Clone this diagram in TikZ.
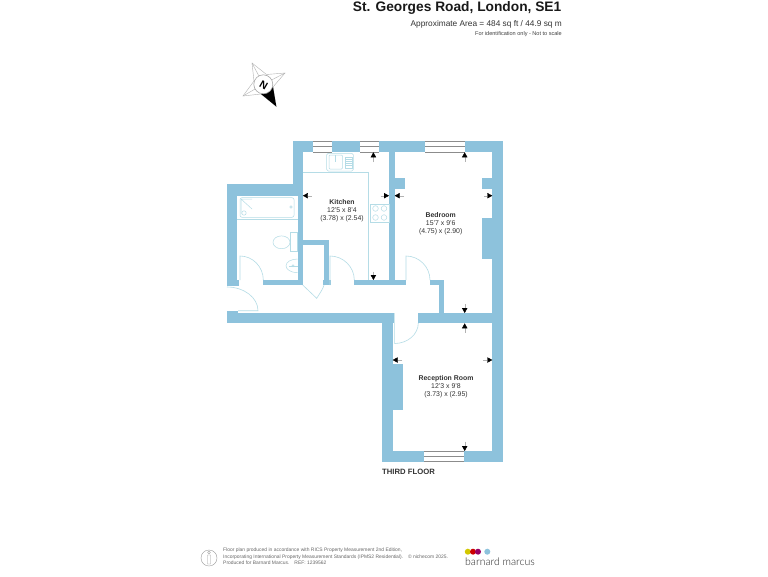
\documentclass[tikz,border=0pt]{standalone}
\usepackage{fontspec}
\setmainfont{Liberation Sans}
\newfontfamily\logofont{Lato Light}
\usetikzlibrary{arrows.meta}
\definecolor{wallblue}{HTML}{8DC2DC}
\definecolor{fitline}{HTML}{B5DCE6}
\tikzset{
  x=1pt,y=-1pt,
  wall/.style={fill=wallblue,draw=none},
  fitting/.style={draw=fitline,line width=0.5pt,fill=none},
  doorleaf/.style={draw=fitline,line width=0.6pt},
  windowline/.style={draw=black!45,line width=0.5pt},
  dimarrow/.style={draw=black!30,line width=0.4pt,-{Triangle[color=black,length=5pt,width=5.4pt]}},
  roomtext/.style={align=center,font=\fontsize{6.9}{8}\selectfont,text=black!80,inner sep=0pt},
  lefttext/.style={anchor=west,inner sep=0pt,text=black!80},
}
\begin{document}
\begin{tikzpicture}
\useasboundingbox (0,0) rectangle (768,576);
\fill[white] (0,0) rectangle (768,576);
% walls
\fill[wall] (292.7,141) rectangle (503,152);
\fill[wall] (292.7,141) rectangle (302.7,195);
\fill[wall] (492.3,141) rectangle (503,461.7);
\fill[wall] (389,141) rectangle (394.7,285.3);
\fill[wall] (226.7,184.3) rectangle (302.7,195.7);
\fill[wall] (226.7,184.3) rectangle (237.3,285.5);
\fill[wall] (227,280) rectangle (239,286);
\fill[wall] (297.7,184.3) rectangle (302.7,285.3);
\fill[wall] (263.3,280) rectangle (302.7,285.3);
\fill[wall] (302.7,240) rectangle (329.3,245.3);
\fill[wall] (324,240) rectangle (329.3,285.3);
\fill[wall] (323,280) rectangle (331,285.3);
\fill[wall] (354.3,280) rectangle (406,285.3);
\fill[wall] (430,280) rectangle (444.3,285.3);
\fill[wall] (439,280) rectangle (444.3,313.5);
\fill[wall] (418.3,312.8) rectangle (503,323.2);
\fill[wall] (226.7,312.8) rectangle (394,323.2);
\fill[wall] (226.7,311) rectangle (238,313);
\fill[wall] (382,312.8) rectangle (392.7,461.7);
\fill[wall] (382,451) rectangle (503,461.7);
\fill[wall] (392.7,364.3) rectangle (403.3,410);
\fill[wall] (394.7,177.7) rectangle (405,188.7);
\fill[wall] (482,177.7) rectangle (492.3,188.7);
\fill[wall] (482,217.7) rectangle (492.3,259.3);
% windows
\foreach \xa/\xb/\ya/\yb in {313.3/332/141/152, 360/379/141/152, 425.3/465/141/152, 424.3/464.3/451/461.7}{
  \fill[white] (\xa,\ya) rectangle (\xb,\yb);
  \draw[windowline] (\xa,\ya) -- (\xb,\ya) (\xa,\yb) -- (\xb,\yb);
  \draw[windowline] (\xa,{(\ya+\yb)/2}) -- (\xb,{(\ya+\yb)/2});
}
% kitchen fittings
\draw[fitting] (302.7,172.3) -- (368.3,172.3) -- (368.3,280);
\draw[fitting,rounded corners=1.5pt] (326.7,153.3) rectangle (353.3,171);
\draw[fitting,rounded corners=1pt] (329,155) rectangle (342.5,169);
\draw[fitting] (345,157) rectangle (352,168);
\foreach \yy in {159,161,163,165}{\draw[fitting,line width=0.35pt] (345,\yy) -- (352,\yy);}
\draw[fitting] (335.7,155) -- (335.7,162);
\draw[fitting,fill=white] (370.7,204) rectangle (389,222.3);
\foreach \cx/\cy in {375.5/208.5,384/208.5,375.5/217.5,384/217.5}{\draw[fitting] (\cx,\cy) circle (2.8);}
% bathroom fittings
\draw[fitting,rounded corners=2pt] (240,197.7) rectangle (294,217.3);
\draw[fitting] (241,199) -- (252,199) (241,199) -- (252,209) (241,199) -- (241,214);
\draw[fitting] (244,213) circle (2.2) (291,207) circle (1.2);
\draw[fitting] (237.3,219.3) -- (297.7,219.3);
\draw[fitting] (281.5,242.3) ellipse (8.5 and 6.4);
\draw[fitting,fill=white] (290,232.7) rectangle (297.7,251.3);
\draw[fitting] (297.7,259) .. controls (291,259) and (286,262) .. (286,265.8) .. controls (286,269.5) and (291,272.7) .. (297.7,272.7);
\draw[fitting] (293,265.8) circle (1);
\draw[fitting] (289,265.8) -- (297.7,265.8);
% doors
\draw[doorleaf] (240,280) -- (240,256) .. controls (253,256) and (263.3,267) .. (263.3,280);
\draw[doorleaf] (238,310.7) -- (258,310.7) .. controls (258,297.6) and (244,287) .. (227,287);
\draw[doorleaf] (302.7,285) -- (316.7,298.3) .. controls (320,293) and (323,289) .. (324,285);
\draw[doorleaf] (330,285) -- (330,256) .. controls (343.4,256) and (354.3,267) .. (354.3,280);
\draw[doorleaf] (406,280) -- (406,256) .. controls (419.2,256) and (430,267) .. (430,280);
\draw[doorleaf] (394.6,313) -- (394.6,343.5) .. controls (407.6,343.5) and (418.3,334.3) .. (418.3,323);
% dimension arrows
\coordinate (kt) at (373.4,152.3); \coordinate (ktt) at (373.4,162);
\coordinate (kb) at (373.4,280); \coordinate (kbt) at (373.4,271.7);
\coordinate (kl) at (302.9,195.7); \coordinate (klt) at (311.7,195.7);
\coordinate (kr) at (389,195.7); \coordinate (krt) at (380.7,195.7);
\coordinate (bl) at (394.7,195.7); \coordinate (blt) at (404,195.7);
\coordinate (br) at (492.3,195.7); \coordinate (brt) at (484,195.7);
\coordinate (bt) at (464.7,152.3); \coordinate (btt) at (464.7,161.7);
\coordinate (bb) at (464.7,313); \coordinate (bbt) at (464.7,304);
\coordinate (rt) at (464.7,323.3); \coordinate (rtt) at (464.7,332.7);
\coordinate (rb) at (464.7,451); \coordinate (rbt) at (464.7,441.7);
\coordinate (rl) at (392.7,360); \coordinate (rlt) at (402.3,360);
\coordinate (rr) at (492.3,360); \coordinate (rrt) at (483.3,360);
\foreach \a/\b in {ktt/kt,kbt/kb,klt/kl,krt/kr,blt/bl,brt/br,btt/bt,bbt/bb,rtt/rt,rbt/rb,rlt/rl,rrt/rr}{
  \draw[dimarrow] (\a) -- (\b);
}
% compass
\draw[black!30,line width=0.4pt] (252,63) -- (266.5,74.5) -- (285,73) -- (273,87) -- (276.3,106.5) -- (261,94) -- (243,96) -- (254,81) -- cycle;
\draw[black!30,line width=0.4pt] (252,63) -- (263.3,84.3) (285,73) -- (263.3,84.3) (243,96) -- (263.3,84.3);
\fill[black] (261,94) -- (276.3,106.5) -- (273,87) -- cycle;
\draw[black!35,fill=white,line width=0.6pt] (263.3,84.3) circle (9.5);
\node[rotate=-30,inner sep=0pt,font=\bfseries\fontsize{10.5}{11}\selectfont] (north) at (263.6,84.8) {N};
% title
\node[anchor=east,inner sep=0pt,font=\bfseries\fontsize{13.75}{15}\selectfont,text=black!90] (title) at (561.5,7.5) {St. Georges Road, London, SE1};
\node[anchor=east,inner sep=0pt,font=\fontsize{8.3}{10}\selectfont,text=black!80] (area) at (562,24) {Approximate Area = 484 sq ft / 44.9 sq m};
\node[anchor=east,inner sep=0pt,font=\fontsize{5.55}{7}\selectfont,text=black!75] (ident) at (562,34.5) {For identification only - Not to scale};
% rooms
\node[roomtext] (kitchen) at (342,210.8) {\textbf{Kitchen}\\12'5 x 8'4\\(3.78) x (2.54)};
\node[roomtext] (bedroom) at (440.7,224) {\textbf{Bedroom}\\15'7 x 9'6\\(4.75) x (2.90)};
\node[roomtext] (reception) at (446,386.5) {\textbf{Reception Room}\\12'3 x 9'8\\(3.73) x (2.95)};
\node[lefttext,font=\bfseries\fontsize{7.7}{9}\selectfont] (floor) at (382,471.5) {THIRD FLOOR};
% footer
\node[draw=black!40,line width=0.4pt,circle,minimum size=16pt,inner sep=0pt] (badge) at (209,558) {};
\draw[black!40,line width=0.4pt] (209,552.5) circle (1.3) (207.5,555) rectangle (210.5,564);
\node[lefttext,align=left,anchor=north west,font=\fontsize{4.95}{6.4}\selectfont,text=black!60] (foot) at (223,548) {Floor plan produced in accordance with RICS Property Measurement 2nd Edition,\\Incorporating International Property Measurement Standards (IPMS2 Residential).\quad © nichecom 2025.\\Produced for Barnard Marcus.\quad REF: 1239562};
\fill[yellow!60!olive] (467.8,551.7) circle (3);
\fill[red!80!black] (473,551.7) circle (3);
\fill[violet!80!red] (478,551.7) circle (3);
\fill[wallblue] (487.3,551.7) circle (3);
\node[lefttext,font=\logofont\fontsize{10.5}{12}\selectfont,text=black!85] (logo) at (465,562) {barnard marcus};
\end{tikzpicture}
\end{document}
